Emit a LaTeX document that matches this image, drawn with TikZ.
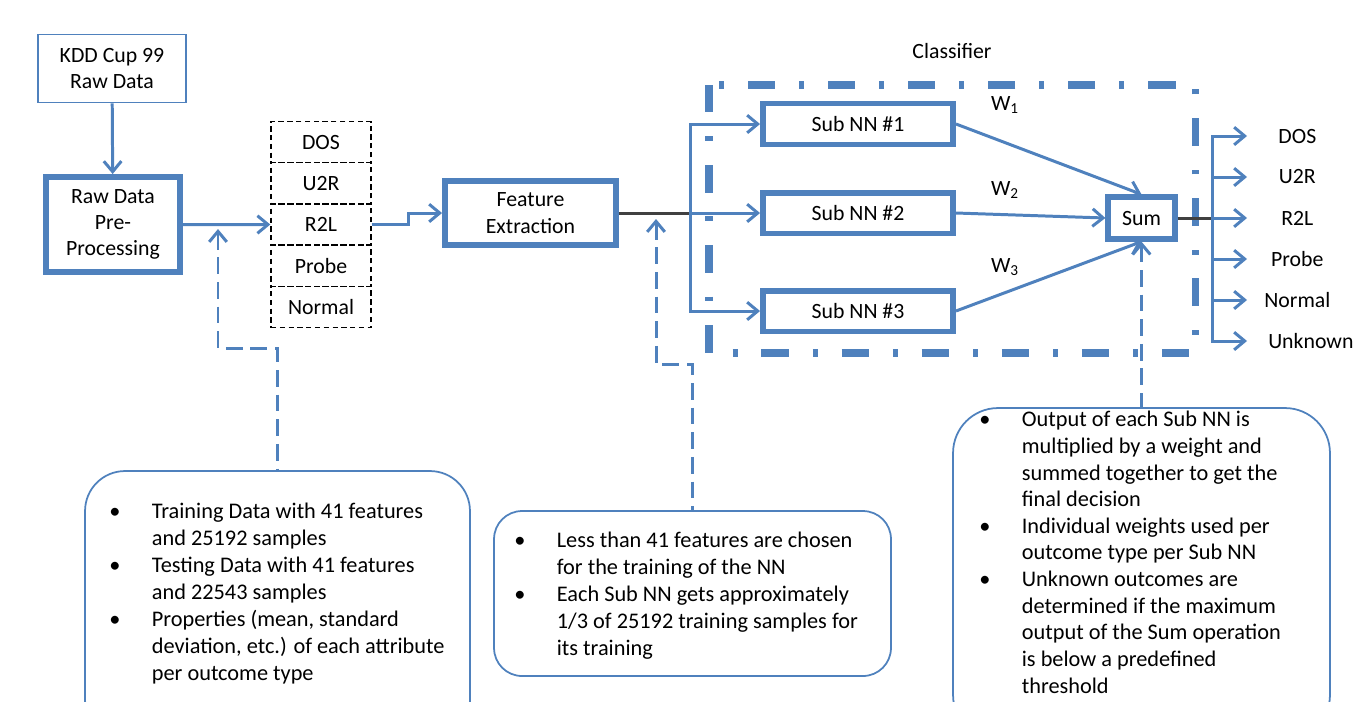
\documentclass[tikz,border=0pt]{standalone}
\usepackage{fontspec}
\setmainfont{Carlito}
\usetikzlibrary{arrows.meta,calc}
\definecolor{officeblue}{RGB}{79,129,189}
\newcommand{\bul}{\makebox[24.2pt][l]{\textbullet}}
\newcommand{\ind}{\hspace*{24.2pt}}
\tikzset{
  >={Straight Barb[length=6pt,width=10pt]},
  txt/.style={font=\fontsize{12.4}{15}\selectfont},
  thinbox/.style={draw=officeblue,line width=1.1pt,txt,align=center},
  thickbox/.style={draw=officeblue,line width=3.4pt,txt,align=center},
  cellbox/.style={draw=black,dash pattern=on 3pt off 2pt,line width=0.8pt,
    minimum width=2cm,minimum height=0.824cm,txt},
  flowline/.style={officeblue,line width=1.7pt},
  darkline/.style={black!75,line width=1.7pt},
  feedback/.style={officeblue,line width=1.7pt,dash pattern=on 9.5pt off 4.5pt},
  clsframe/.style={officeblue,line width=4pt,
    dash pattern=on 15.6pt off 13.6pt on 2.8pt off 13.6pt},
  notebox/.style={draw=officeblue,line width=1pt},
  notetext/.style={font=\fontsize{12.7}{15.35}\selectfont,align=left,
    anchor=north west,inner sep=0pt},
  outlbl/.style={txt,anchor=west}
}

\begin{document}
\begin{tikzpicture}[x=0.02cm,y=-0.02cm]
\clip (0,0) rectangle (1361,701);

% input side
\node[thinbox,minimum width=2.96cm,minimum height=1.36cm] (kdd) at (112,68.5) {KDD Cup 99\\Raw Data};
\node[thickbox,minimum width=2.68cm,minimum height=1.9cm] (pre) at (113,224.5) {Raw Data\\Pre-\\Processing};
\foreach \lbl [count=\i] in {DOS,U2R,R2L,Probe,Normal}
  \node[cellbox] (c\i) at (321,100.9+41.2*\i) {\lbl};
\node[thickbox,minimum width=3.42cm,minimum height=1.28cm] (feat) at (530.5,213) {Feature\\Extraction};

% classifier
\node[txt] (cls) at (952,51) {Classifier};
\draw[clsframe] (709,85) rectangle (1195,353);
\foreach \i/\yy in {1/124,2/213,3/311}
  \node[thickbox,minimum width=3.8cm,minimum height=0.82cm] (sub\i) at (858,\yy) {Sub NN \#\i};
\node[thickbox,line width=3pt,minimum width=1.34cm,minimum height=0.84cm] (sum) at (1141.5,218) {Sum};
\node[txt] (w1) at (1005,105) {W\textsubscript{1}};
\node[txt] (w2) at (1005,190) {W\textsubscript{2}};
\node[txt] (w3) at (1005,267) {W\textsubscript{3}};

% main flow
\draw[flowline,->] (kdd) -- (pre);
\draw[flowline,->] (pre.east) -- (c3.west);
\draw[flowline,->] (c3.east) -- ++(37,0) |- (feat.west);
\coordinate (fsplit) at (690,213);
\draw[darkline] (feat.east) -- (fsplit);
\draw[flowline,->] (fsplit) |- (sub1.west);
\draw[flowline,->] (fsplit) -- (sub2.west);
\draw[flowline,->] (fsplit) |- (sub3.west);
\draw[flowline,->] (sub1.east) -- (sum.north);
\draw[flowline,->] (sub2.east) -- (sum.west);
\draw[flowline,->] (sub3.east) -- (sum.south);
\coordinate (osplit) at (1212,218);
\draw[darkline] (sum.east) -- (osplit);
\foreach \lbl/\yy/\ww [count=\i] in {DOS/136/2cm,U2R/177/2cm,R2L/218/2cm,Probe/259/2cm,Normal/300/2cm,Unknown/341/2.54cm} {
  \node[outlbl,minimum width=\ww] (out\i) at (1247,\yy) {\lbl};
  \draw[flowline,->] (osplit) |- (out\i.west);
}

% notes
\node[notebox,minimum width=7.7cm,minimum height=5.38cm,rounded corners=0.8cm] (lnote) at (277.5,605.5) {};
\node[notebox,minimum width=7.94cm,minimum height=3.3cm,rounded corners=0.56cm] (mnote) at (692.5,593.5) {};
\node[notebox,minimum width=7.54cm,minimum height=6.64cm,rounded corners=0.9cm] (rnote) at (1141.5,574) {};
\node[notetext] (ltext) at (109,503) {\bul Training Data with 41 features\\
  \ind and 25192 samples\\
  \bul Testing Data with 41 features\\
  \ind and 22543 samples\\
  \bul Properties (mean, standard\\
  \ind deviation, etc.) of each attribute\\
  \ind per outcome type};
\node[notetext] (mtext) at (514,532) {\bul Less than 41 features are chosen\\
  \ind for the training of the NN\\
  \bul Each Sub NN gets approximately\\
  \ind 1/3 of 25192 training samples for\\
  \ind its training};
\node[notetext,font=\fontsize{12.7}{15.15}\selectfont] (rtext) at (979,411) {\bul Output of each Sub NN is\\
  \ind multiplied by a weight and\\
  \ind summed together to get the\\
  \ind final decision\\
  \bul Individual weights used per\\
  \ind outcome type per Sub NN\\
  \bul Unknown outcomes are\\
  \ind determined if the maximum\\
  \ind output of the Sum operation\\
  \ind is below a predefined\\
  \ind threshold};

% feedback links
\coordinate (ltap) at (218,229);
\draw[feedback,<-] (ltap) -- (218,348) -| (lnote.north);
\coordinate (mtap) at (656,219);
\draw[feedback,<-] (mtap) -- (656,364) -| (mnote.north);
\draw[feedback,<-] (sum.south) -- (rnote.north);
\end{tikzpicture}
\end{document}
